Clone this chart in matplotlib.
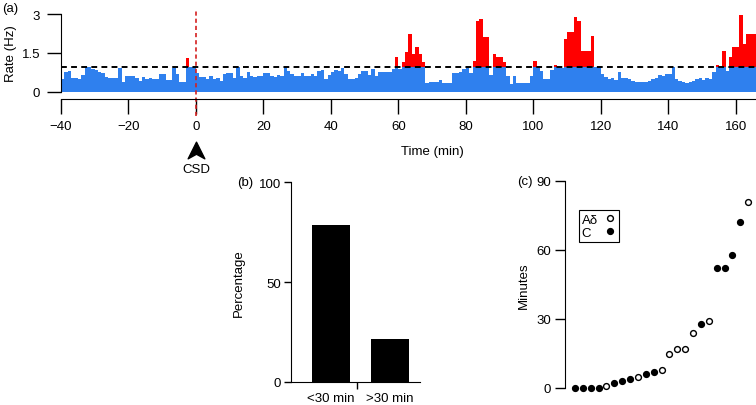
import matplotlib.pyplot as plt
import numpy as np
from matplotlib.path import Path
from matplotlib.transforms import blended_transform_factory

plt.rcParams['font.family'] = ['Liberation Sans', 'DejaVu Sans']
plt.rcParams['font.size'] = 9.5

W, H = 756, 406

# (a) firing rate, 1-min bins from -40 to 166 min
t_start = -40
rate = [0.50, 0.78, 0.82, 0.54, 0.54, 0.50, 0.65, 0.97, 0.95, 0.88,
        0.85, 0.78, 0.73, 0.59, 0.54, 0.54, 0.54, 0.92, 0.37, 0.62,
        0.62, 0.60, 0.54, 0.44, 0.56, 0.50, 0.54, 0.50, 0.50, 0.69,
        0.69, 0.46, 0.46, 0.91, 0.69, 0.40, 0.40, 1.30, 0.95, 0.95,
        0.72, 0.59, 0.59, 0.50, 0.63, 0.50, 0.54, 0.44, 0.69, 0.72,
        0.72, 0.54, 0.95, 0.63, 0.54, 0.76, 0.63, 0.59, 0.63, 0.63,
        0.72, 0.72, 0.63, 0.59, 0.67, 0.63, 0.95, 0.82, 0.69, 0.63,
        0.63, 0.72, 0.63, 0.63, 0.69, 0.63, 0.82, 0.85, 0.50, 0.67,
        0.76, 0.85, 0.80, 0.92, 0.70, 0.50, 0.50, 0.55, 0.70, 0.82,
        0.82, 0.67, 0.88, 0.63, 0.76, 0.76, 0.76, 0.76, 0.88, 1.33,
        0.90, 1.15, 1.55, 2.23, 1.46, 1.72, 1.46, 1.15, 0.35, 0.37,
        0.37, 0.37, 0.46, 0.35, 0.35, 0.35, 0.72, 0.72, 0.78, 0.90,
        0.95, 0.72, 1.20, 2.74, 2.80, 2.10, 2.10, 0.65, 1.46, 1.33,
        1.33, 1.15, 0.62, 0.31, 0.62, 0.33, 0.33, 0.33, 0.35, 0.62,
        1.20, 0.95, 0.80, 0.50, 0.50, 0.85, 1.04, 0.98, 0.92, 2.04,
        2.30, 2.30, 2.90, 2.74, 1.56, 1.56, 1.56, 2.14, 0.95, 0.95,
        0.70, 0.58, 0.50, 0.55, 0.45, 0.78, 0.55, 0.55, 0.50, 0.43,
        0.40, 0.40, 0.40, 0.40, 0.43, 0.50, 0.55, 0.65, 0.60, 0.68,
        0.70, 0.95, 0.50, 0.43, 0.40, 0.36, 0.38, 0.43, 0.50, 0.55,
        0.48, 0.55, 0.50, 0.78, 1.04, 0.92, 1.59, 0.80, 1.36, 1.74,
        1.74, 2.96, 1.85, 2.23, 2.25, 2.25]
threshold = 0.97
time_ticks = [-40, -20, 0, 20, 40, 60, 80, 100, 120, 140, 160]
rate_ticks = [0, 1.5, 3]

# (b) percentage of units
bar_labels = ['<30 min', '>30 min']
bar_values = [78.3, 21.7]

# (c) latency per unit, sorted
latency = [0, 0, 0, 0, 1, 2, 3, 4, 5, 6, 7, 8, 15, 17, 17, 24, 28, 29, 52, 52, 58, 72, 81]
fiber = ['C', 'C', 'C', 'C', 'Ad', 'C', 'C', 'C', 'Ad', 'C', 'C', 'Ad', 'Ad', 'Ad', 'Ad',
         'Ad', 'C', 'Ad', 'C', 'C', 'C', 'C', 'Ad']

blue = '#2f80ee'


def rect(l, t, r, b):
    return [l / W, 1 - b / H, (r - l) / W, (b - t) / H]


fig = plt.figure(figsize=(W / 100, H / 100), dpi=100)

# ---- panel (a)
ax = fig.add_axes(rect(61, 8, 756, 100))
r = np.array(rate)
edges = np.arange(t_start, t_start + len(r) + 1)
ax.stairs(np.minimum(r, threshold), edges, fill=True, color=blue, lw=0)
ax.stairs(np.maximum(r, threshold), edges, baseline=threshold, fill=True, color='red', lw=0)
ax.axhline(threshold, color='black', ls=(0, (3, 2.2)), lw=1.4)
ax.axvline(0, ymin=-0.19, ymax=0.98, color='#d42020', ls=(0, (2.5, 1.8)), lw=1.2, clip_on=False)
ax.set_xlim(-40, 166)
ax.set_ylim(-0.27, 3.27)
ax.set_xticks(time_ticks)
ax.set_xticklabels([f'{v}' if v >= 0 else f'\u2212{abs(v)}' for v in time_ticks])
ax.set_yticks(rate_ticks)
ax.set_yticklabels(['0', '1.5', '3'])
ax.spines['top'].set_visible(False)
ax.spines['right'].set_visible(False)
ax.spines['left'].set_bounds(0, 3)
ax.tick_params(axis='x', length=11, width=1, pad=4)
ax.tick_params(axis='y', length=10, width=1, pad=5)
ax.set_ylabel('Rate (Hz)')
ax.yaxis.set_label_coords(-0.064, 0.5)

# CSD marker below the x axis
chevron = Path([(0, 1), (-1, -1), (0, -0.45), (1, -1), (0, 1)],
               [Path.MOVETO, Path.LINETO, Path.LINETO, Path.LINETO, Path.CLOSEPOLY])
trans = blended_transform_factory(ax.transData, ax.transAxes)
ax.plot([0], [-0.55], marker=chevron, ms=12, color='black', transform=trans, clip_on=False)
ax.text(0, -0.76, 'CSD', transform=trans, ha='center', va='center')
fig.text(432 / W, 1 - 152 / H, 'Time (min)', ha='center', va='center')
fig.text(2 / W, 1 - 9 / H, '(a)', ha='left', va='center')

# ---- panel (b)
bx = fig.add_axes(rect(291, 183, 420, 383))
bx.bar([0, 1], bar_values, width=0.64, color='black')
bx.set_xlim(-0.667, 1.5)
bx.set_ylim(0, 100)
bx.set_yticks([0, 50, 100])
bx.set_xticks([0.45])
bx.set_xticklabels([''])
bx.set_xticks([0, 1], minor=True)
bx.set_xticklabels(bar_labels, minor=True)
bx.tick_params(axis='x', which='minor', length=0, pad=7)
bx.tick_params(axis='x', which='major', length=5, width=1)
bx.tick_params(axis='y', length=5, width=1, pad=2)
bx.spines['top'].set_visible(False)
bx.spines['right'].set_visible(False)
bx.set_ylabel('Percentage', labelpad=10)
fig.text(245 / W, 1 - 183 / H, '(b)', ha='center', va='center')

# ---- panel (c)
cx = fig.add_axes(rect(565, 182, 756, 389))
idx = np.arange(1, len(latency) + 1)
lat = np.array(latency)
is_c = np.array([f == 'C' for f in fiber])
cx.plot(idx[~is_c], lat[~is_c], 'o', ms=4.2, mfc='white', mec='black', mew=1,
        clip_on=False, label='A\u03b4')
# en space keeps the two legend labels left-aligned
cx.plot(idx[is_c], lat[is_c], 'o', ms=4.2, mfc='black', mec='black', mew=1,
        clip_on=False, label='C\u2002')
cx.set_xlim(-0.27, 24.0)
cx.set_ylim(0, 90)
cx.set_yticks([0, 30, 60, 90])
cx.set_xticks([])
for s in ['top', 'right', 'bottom']:
    cx.spines[s].set_visible(False)
cx.tick_params(axis='y', length=7, width=1, pad=3)
cx.set_ylabel('Minutes', labelpad=5)
leg = cx.legend(loc='upper left', bbox_to_anchor=(0.073, 0.86), borderaxespad=0,
                markerfirst=False, fancybox=False, edgecolor='black', framealpha=1,
                handlelength=0.8, handletextpad=0.5, borderpad=0.25, labelspacing=0.1,
                fontsize=9.5)
leg.get_frame().set_linewidth(0.8)
fig.text(525 / W, 1 - 182 / H, '(c)', ha='center', va='center')

fig.savefig('out.png', dpi=100)
